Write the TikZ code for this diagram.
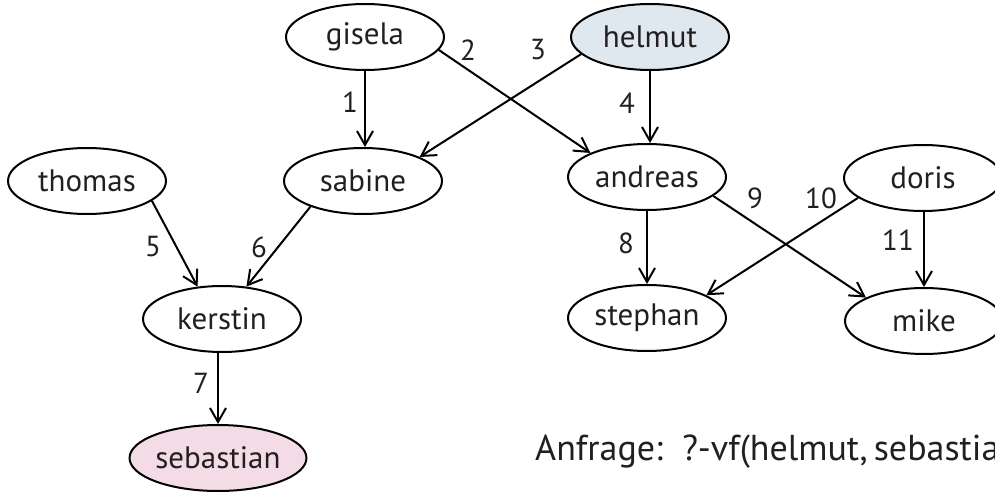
\documentclass[tikz,border=0pt]{standalone}
\usepackage{fontspec}
\setmainfont{PT Sans}
\usetikzlibrary{shapes.geometric,arrows.meta}
\definecolor{helmutfill}{HTML}{DFE8EE}
\definecolor{sebfill}{HTML}{F3DCE6}
\definecolor{txt}{HTML}{231F20}
\begin{document}
\begin{tikzpicture}[x=1pt,y=-1pt,
  person/.style={ellipse,draw,line width=2pt,minimum width=158pt,minimum height=66pt,inner sep=0pt,text=txt,font=\fontsize{31}{33}\selectfont},
  edge/.style={-{Straight Barb[length=14pt,width=16pt,line width=2pt]},line width=2pt},
  num/.style={inner sep=0pt,text=txt,font=\fontsize{29}{31}\selectfont}]
\useasboundingbox (0,0) rectangle (995,494);
\clip (0,0) rectangle (995,494);
\node[person] (gisela) at (365,37) {gisela};
\node[person,fill=helmutfill] (helmut) at (650,37) {helmut};
\node[person] (sabine) at (363,181) {sabine};
\node[person] (andreas) at (647,177) {andreas};
\node[person] (doris) at (923,178) {doris};
\node[person] (thomas) at (87,181) {thomas};
\node[person] (kerstin) at (222,319) {kerstin};
\node[person] (stephan) at (647,318) {stephan};
\node[person] (mike) at (924,321) {mike};
\node[person,fill=sebfill] (sebastian) at (218,458) {sebastian};

\draw[edge] (gisela.south) -- (gisela.south |- sabine.north);
\draw[edge] (gisela.-10) -- (andreas.157);
\draw[edge] (helmut.-166) -- (sabine.23);
\draw[edge] (helmut.south) -- (helmut.south |- andreas.north);
\draw[edge] (thomas.-17) -- (kerstin.127);
\draw[edge] (sabine.-154) -- (kerstin.53);
\draw[edge] (sebastian.north |- kerstin.south) -- (sebastian.north);
\draw[edge] (andreas.south) -- (andreas.south |- stephan.north);
\draw[edge] (andreas.-16) -- (mike.158);
\draw[edge] (doris.-163) -- (stephan.21);
\draw[edge] (mike.north |- doris.south) -- (mike.north);

\node[num] (l1) at (350,102) {1};
\node[num] (l2) at (468,50) {2};
\node[num] (l3) at (538,50) {3};
\node[num] (l4) at (627,103) {4};
\node[num] (l5) at (153,247) {5};
\node[num] (l6) at (259,247) {6};
\node[num] (l7) at (201,383) {7};
\node[num] (l8) at (626,243) {8};
\node[num] (l9) at (755,198) {9};
\node[num] (l10) at (821,198) {10};
\node[num] (l11) at (898,240) {11};

\node[anchor=base west,inner sep=0pt,text=txt,font=\fontsize{36}{39}\selectfont] (query) at (535,460) {Anfrage:\ \ ?-vf(helmut,\,sebastian)};
\end{tikzpicture}
\end{document}
